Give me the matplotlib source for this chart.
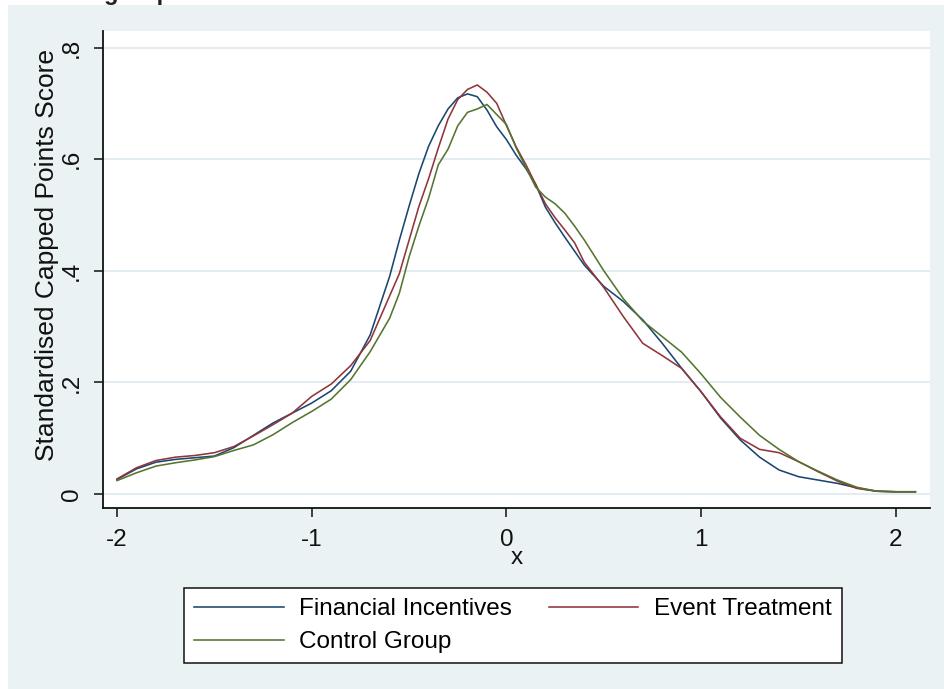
import matplotlib
matplotlib.use("Agg")
import matplotlib.pyplot as plt
from matplotlib.patches import Rectangle

# ---------------- data ----------------
x_grid = [-2.0, -1.9, -1.8, -1.7, -1.6, -1.5, -1.4, -1.3, -1.2, -1.1, -1.0,
          -0.9, -0.8, -0.7, -0.6, -0.55, -0.5, -0.45, -0.4, -0.35, -0.3, -0.25,
          -0.2, -0.15, -0.1, -0.05, 0.0, 0.05, 0.1, 0.15, 0.2, 0.25, 0.3, 0.35,
          0.4, 0.5, 0.6, 0.7, 0.8, 0.9, 1.0, 1.1, 1.2, 1.3, 1.4, 1.5, 1.6, 1.7,
          1.8, 1.9, 2.0, 2.1]

financial_incentives = [0.026, 0.045, 0.057, 0.062, 0.065, 0.068, 0.083, 0.105,
                        0.127, 0.145, 0.163, 0.185, 0.220, 0.285, 0.390, 0.455,
                        0.516, 0.574, 0.623, 0.660, 0.690, 0.710, 0.717, 0.712,
                        0.688, 0.658, 0.635, 0.607, 0.583, 0.555, 0.514, 0.486,
                        0.460, 0.435, 0.410, 0.372, 0.345, 0.312, 0.270, 0.225,
                        0.183, 0.136, 0.097, 0.066, 0.043, 0.031, 0.025, 0.019,
                        0.011, 0.005, 0.004, 0.004]

event_treatment = [0.027, 0.047, 0.060, 0.066, 0.069, 0.074, 0.085, 0.104,
                   0.124, 0.145, 0.175, 0.197, 0.230, 0.275, 0.355, 0.395,
                   0.455, 0.515, 0.565, 0.620, 0.672, 0.707, 0.725, 0.733,
                   0.720, 0.700, 0.660, 0.622, 0.590, 0.555, 0.520, 0.495,
                   0.473, 0.450, 0.415, 0.370, 0.318, 0.270, 0.248, 0.225,
                   0.183, 0.138, 0.100, 0.080, 0.074, 0.058, 0.040, 0.023,
                   0.010, 0.005, 0.004, 0.004]

control_group = [0.024, 0.038, 0.050, 0.056, 0.061, 0.067, 0.078, 0.088,
                 0.106, 0.128, 0.148, 0.170, 0.205, 0.255, 0.315, 0.360,
                 0.425, 0.480, 0.530, 0.590, 0.618, 0.660, 0.684, 0.690,
                 0.698, 0.680, 0.662, 0.620, 0.585, 0.550, 0.532, 0.520,
                 0.503, 0.480, 0.455, 0.400, 0.350, 0.310, 0.282, 0.254,
                 0.215, 0.173, 0.138, 0.105, 0.080, 0.058, 0.041, 0.025,
                 0.012, 0.005, 0.004, 0.004]

series_labels = ["Financial Incentives", "Event Treatment", "Control Group"]
x_ticks = [-2, -1, 0, 1, 2]
x_tick_labels = ["-2", "-1", "0", "1", "2"]
y_ticks = [0, 0.2, 0.4, 0.6, 0.8]
y_tick_labels = ["0", ".2", ".4", ".6", ".8"]
x_title = "x"
y_title = "Standardised Capped Points Score"
top_title = "group"

# ---------------- style ----------------
plt.rcParams['font.family'] = ['Liberation Sans', 'DejaVu Sans']
W, H = 944, 689
fig = plt.figure(figsize=(W / 100, H / 100), dpi=100, facecolor="white")

bg = "#eaf2f3"
fig.patches.append(Rectangle((8 / W, 0), 1 - 8 / W, 1 - 5 / H, transform=fig.transFigure,
                             facecolor=bg, edgecolor="none", zorder=-5))
fig.text(104 / W, 1.0, top_title, fontsize=17, fontweight="bold",
         va="baseline", ha="left", color="#222222", zorder=-4)

ax = fig.add_axes([103 / W, 1 - 508 / H, (930 - 103) / W, (508 - 31) / H])
ax.set_zorder(2)
ax.set_facecolor("white")

colors = ["#1a476f", "#90353b", "#55752f"]
lines = []
for ys, lab, c in zip([financial_incentives, event_treatment, control_group],
                      series_labels, colors):
    ln, = ax.plot(x_grid, ys, color=c, lw=1.15, label=lab, zorder=3)
    lines.append(ln)

ax.set_xlim(-2.072, 2.175)
ax.set_ylim(-0.0251, 0.8297)

for s in ["top", "right"]:
    ax.spines[s].set_visible(False)
for s in ["left", "bottom"]:
    ax.spines[s].set_color("#111111")
    ax.spines[s].set_linewidth(1.3)

ax.set_xticks(x_ticks)
ax.set_xticklabels(x_tick_labels, fontsize=17.5)
ax.set_yticks(y_ticks)
ax.set_yticklabels(y_tick_labels, fontsize=17.5, rotation=90, va="center")
ax.tick_params(axis="both", direction="out", length=6.5, width=1.1, color="#111111",
               labelcolor="#111111")
ax.tick_params(axis="x", pad=8.5)
ax.tick_params(axis="y", pad=8)

ax.yaxis.grid(True, color="#e3ecf1", lw=1.4, zorder=1)
ax.set_axisbelow(True)

ax.set_xlabel(x_title, fontsize=17.5, color="#111111", labelpad=-3)
ax.set_ylabel(y_title, fontsize=19, color="#111111")
ax.yaxis.set_label_coords(-0.053, 0.53)

# order so rows read: Financial | Event ; Control
order = [0, 2, 1]
leg = fig.legend([lines[i] for i in order], [series_labels[i] for i in order],
                 loc="upper left", bbox_to_anchor=(184 / W, 1 - 588 / H), ncol=2,
                 fontsize=17.5, frameon=True, fancybox=False, edgecolor="#111111",
                 facecolor="white", framealpha=1, handlelength=3.7, handletextpad=0.62,
                 columnspacing=1.5, borderpad=0.42, labelspacing=0.45,
                 borderaxespad=0)
leg.get_frame().set_linewidth(1.1)
leg.set_zorder(3)

fig.savefig("out.png", dpi=100, facecolor="white")
